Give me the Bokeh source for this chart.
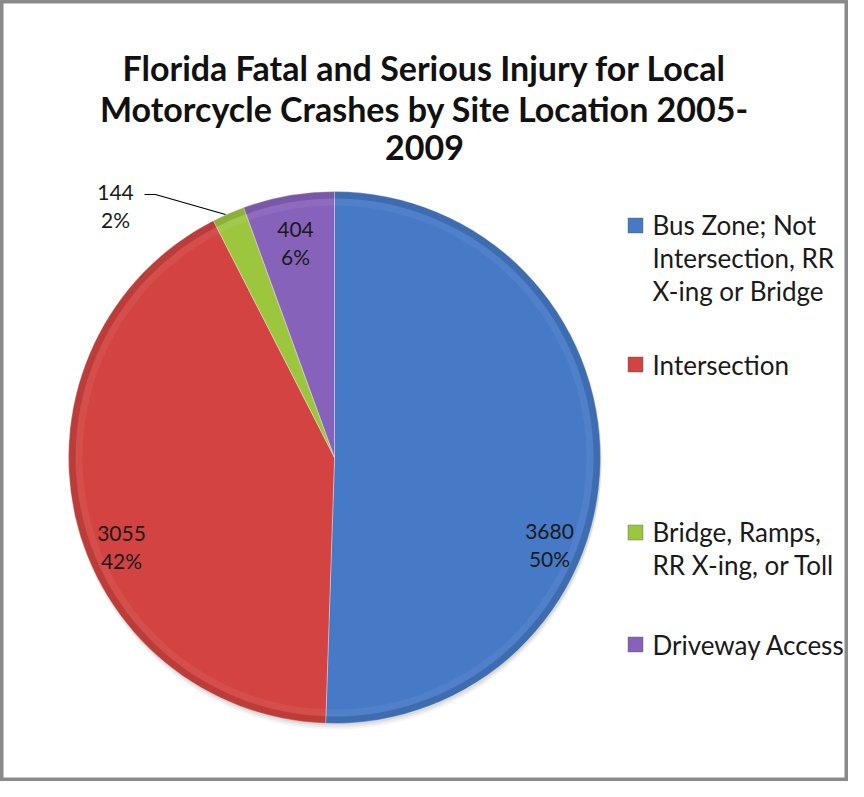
import math
from bokeh.plotting import figure
from bokeh.models import Range1d, ColumnDataSource
from bokeh.core.properties import value
from bokeh.embed import file_html
from bokeh.resources import INLINE

# ---- data ----
categories = ["Bus Zone; Not Intersection, RR X-ing or Bridge", "Intersection",
              "Bridge, Ramps, RR X-ing, or Toll", "Driveway Access"]
legend_labels = ["Bus Zone; Not\nIntersection, RR\nX-ing or Bridge", "Intersection",
                 "Bridge, Ramps,\nRR X-ing, or Toll", "Driveway Access"]
counts = [3680, 3055, 144, 404]
pct_labels = ["50%", "42%", "2%", "6%"]
colors = ["#4679C6", "#D24341", "#9DC63F", "#8762BA"]
title_lines = ["Florida Fatal and Serious Injury for Local",
               "Motorcycle Crashes by Site Location 2005-",
               "2009"]

# ---- layout (page pixel coordinates; data y = H_PAGE - page_y) ----
W, H = 848, 781
H_PAGE = 797
def Y(py):
    return H_PAGE - py

p = figure(width=W, height=H, output_backend="svg", toolbar_location=None,
           x_range=Range1d(8, 8 + W), y_range=Range1d(Y(8 + H), Y(8)),
           min_border=0)
p.axis.visible = False
p.grid.visible = False
p.outline_line_color = "#8A8A8A"
p.outline_line_width = 6
p.background_fill_color = "white"
p.border_fill_color = "white"

font = value("Lato")

# title
p.text(x=[432] * 3, y=[Y(75), Y(116), Y(155)], text=title_lines,
       text_font=font, text_font_style="bold", text_font_size="34px",
       text_align="center", text_baseline="middle", text_color="#111111")

# pie
cx, cy, R = 342, Y(465), 266
total = sum(counts)
starts, ends = [], []
cum = 0.0
for v in counts:
    starts.append(math.pi / 2 - cum / total * 2 * math.pi)
    cum += v
    ends.append(math.pi / 2 - cum / total * 2 * math.pi)

src = ColumnDataSource(dict(start=starts, end=ends, color=colors))
# soft shadow below the pie
for k, a in [(6, 0.04), (4, 0.05), (2, 0.06)]:
    p.circle(x=[cx + 1], y=[cy - k], radius=R, fill_color="#000000",
             fill_alpha=a, line_color=None)
p.wedge(x=cx, y=cy, radius=R, start_angle="start", end_angle="end",
        direction="clock", fill_color="color", line_color="#FFFFFF",
        line_alpha=0.35, line_width=1, source=src)
# bevel look: light inner band, darker rim
p.annular_wedge(x=cx, y=cy, inner_radius=R - 7, outer_radius=R,
                start_angle="start", end_angle="end", direction="clock",
                fill_color="#000000", fill_alpha=0.10, line_color=None, source=src)
p.annular_wedge(x=cx, y=cy, inner_radius=R - 14, outer_radius=R - 7,
                start_angle="start", end_angle="end", direction="clock",
                fill_color="#FFFFFF", fill_alpha=0.06, line_color=None, source=src)

# data labels
lbl_x = [557, 129, 123, 303]
lbl_y = [Y(552), Y(554), Y(213), Y(250)]
lbl_text = [f"{c}\n{pc}" for c, pc in zip(counts, pct_labels)]
p.text(x=lbl_x, y=lbl_y, text=lbl_text, text_font=font, text_font_size="21px",
       text_align="center", text_baseline="middle", text_color="#1a1a1a",
       text_line_height=1.1)
# leader line for the small slice
p.line(x=[152, 163, 233], y=[Y(202), Y(202), Y(222)], line_color="#000000", line_width=1.2)

# legend
leg_first = [233, 372, 540, 652]
line_step = 32.5
nlines = [t.count("\n") + 1 for t in legend_labels]
p.scatter(x=[643] * 4, y=[Y(v) for v in leg_first], marker="square", size=15,
          fill_color=colors, line_color="#555555", line_alpha=0.4)
p.text(x=[660] * 4, y=[Y(v + (n - 1) * line_step / 2) for v, n in zip(leg_first, nlines)],
       text=legend_labels, text_font=font,
       text_font_size="26px", text_align="left", text_baseline="middle",
       text_color="#1a1a1a", text_line_height=1.03)

open("out.html", "w").write(file_html(p, INLINE))
